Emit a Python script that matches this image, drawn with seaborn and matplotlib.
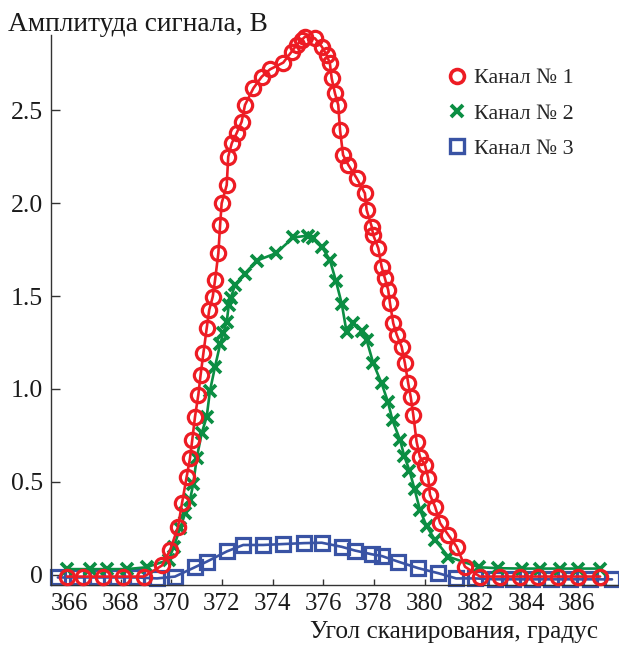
import matplotlib
matplotlib.use("Agg")
import matplotlib.pyplot as plt
from matplotlib.lines import Line2D
import seaborn as sns
import pandas as pd

# ---- data ----
ch1_x = [365.89, 366.52, 367.31, 368.10, 368.93, 369.64, 369.96, 370.27, 370.43, 370.61,
         370.74, 370.83, 370.94, 371.07, 371.16, 371.27, 371.40, 371.50, 371.64, 371.73,
         371.86, 371.93, 371.99, 372.19, 372.25, 372.39, 372.58, 372.78, 372.91, 373.24,
         373.57, 373.90, 374.42, 374.75, 374.95, 375.15, 375.28, 375.67, 375.94, 376.13,
         376.26, 376.33, 376.46, 376.59, 376.66, 376.78, 376.99, 377.32, 377.64, 377.71,
         377.91, 377.97, 378.17, 378.30, 378.43, 378.56, 378.63, 378.76, 378.90, 379.09,
         379.22, 379.35, 379.45, 379.55, 379.68, 379.81, 380.01, 380.14, 380.21, 380.41,
         380.61, 380.93, 381.26, 381.59, 382.18, 382.97, 383.76, 384.48, 385.27, 386.06,
         386.92]
ch1_y = [-0.01, -0.01, -0.01, -0.01, -0.01, 0.05, 0.133, 0.257, 0.388, 0.527,
         0.626, 0.725, 0.851, 0.968, 1.075, 1.192, 1.326, 1.425, 1.497, 1.586,
         1.730, 1.882, 1.999, 2.097, 2.250, 2.322, 2.376, 2.438, 2.528, 2.618,
         2.680, 2.720, 2.756, 2.815, 2.851, 2.878, 2.896, 2.887, 2.842, 2.797,
         2.752, 2.672, 2.591, 2.528, 2.393, 2.259, 2.205, 2.133, 2.053, 1.963,
         1.873, 1.828, 1.757, 1.658, 1.595, 1.532, 1.461, 1.353, 1.290, 1.227,
         1.138, 1.030, 0.955, 0.860, 0.716, 0.635, 0.590, 0.519, 0.429, 0.366,
         0.277, 0.214, 0.151, 0.043, -0.01, -0.01, -0.01, -0.01, -0.01, -0.01,
         -0.01]

ch2_x = [365.88, 366.80, 367.46, 368.24, 369.03, 369.90, 370.10, 370.35, 370.55, 370.74,
         370.87, 371.01, 371.20, 371.40, 371.53, 371.73, 371.93, 372.05, 372.19, 372.27,
         372.35, 372.52, 372.91, 373.37, 374.13, 374.82, 375.38, 375.61, 375.94, 376.26,
         376.50, 376.73, 376.92, 377.18, 377.51, 377.71, 377.97, 378.30, 378.55, 378.73,
         379.03, 379.19, 379.40, 379.60, 379.81, 380.08, 380.41, 380.93, 382.15, 382.90,
         383.83, 384.55, 385.34, 386.06, 386.92]
ch2_y = [0.03, 0.03, 0.03, 0.03, 0.04, 0.08, 0.15, 0.25, 0.33, 0.40,
         0.49, 0.63, 0.76, 0.85, 0.99, 1.12, 1.24, 1.30, 1.36, 1.45,
         1.49, 1.56, 1.62, 1.69, 1.73, 1.815, 1.825, 1.81, 1.765, 1.694,
         1.58, 1.457, 1.305, 1.353, 1.313, 1.263, 1.138, 1.030, 0.93, 0.83,
         0.725, 0.64, 0.56, 0.46, 0.35, 0.26, 0.187, 0.097, 0.04, 0.035,
         0.033, 0.033, 0.033, 0.033, 0.033]

ch3_x = [365.53, 366.28, 367.07, 367.86, 368.65, 369.44, 370.15, 370.93, 371.40, 372.19,
         372.84, 373.63, 374.42, 375.24, 375.94, 376.73, 377.25, 377.91, 378.32, 378.96,
         379.75, 380.54, 381.24, 381.98, 382.77, 383.48, 384.23, 384.98, 385.73, 386.52,
         387.39]
ch3_y = [-0.015, -0.015, -0.015, -0.015, -0.015, -0.02, -0.01, 0.04, 0.07, 0.125,
         0.16, 0.16, 0.165, 0.17, 0.172, 0.15, 0.13, 0.11, 0.10, 0.07,
         0.035, 0.008, -0.02, -0.02, -0.025, -0.025, -0.025, -0.025, -0.025, -0.025,
         -0.025]

labels = ["Канал № 1", "Канал № 2", "Канал № 3"]
x_ticks = [366, 368, 370, 372, 374, 376, 378, 380, 382, 384, 386]
y_ticks = [0, 0.5, 1.0, 1.5, 2.0, 2.5]
y_tick_labels = ["0", "0.5", "1.0", "1.5", "2.0", "2.5"]
y_title = "Амплитуда сигнала, В"
x_title = "Угол сканирования, градус"

RED = "#ED1C24"
GREEN = "#0B8E43"
BLUE = "#3953A4"

sns.set_theme(style="white")
plt.rcParams["font.family"] = ["Liberation Serif", "DejaVu Serif"]

fig = plt.figure(figsize=(6.19, 6.48), dpi=100)
ax = fig.add_axes([51 / 619, 63 / 648, (619 - 51) / 619, (585 - 35) / 648])

series = [
    (ch1_x, ch1_y, RED, "o", 10.3, 2.3),
    (ch2_x, ch2_y, GREEN, "x", 9, 2.7),
    (ch3_x, ch3_y, BLUE, "s", 9.8, 2.3),
]
for (xs, ys, col, mk, ms, mew), lab in zip(series, labels):
    df = pd.DataFrame({"x": xs, "y": ys})
    sns.lineplot(data=df, x="x", y="y", ax=ax, color=col, marker=mk,
                 markersize=ms, markeredgewidth=mew, markerfacecolor="none",
                 markeredgecolor=col, linewidth=1.9, estimator=None, sort=False,
                 clip_on=False, zorder={"o": 4, "x": 3, "s": 2}[mk])

x0 = 366 + (51 - 69.8) / 25.35
x1 = 366 + (619 - 69.8) / 25.35
y0 = (574.7 - 585) / 185.8
y1 = (574.7 - 35) / 185.8
ax.set_xlim(x0, x1)
ax.set_ylim(y0, y1)

ax.set_xticks(x_ticks)
ax.set_xticklabels([str(t) for t in x_ticks])
ax.set_yticks(y_ticks)
ax.set_yticklabels(y_tick_labels)
ax.set_xlabel("")
ax.set_ylabel("")

for s in ["top", "right"]:
    ax.spines[s].set_visible(False)
for s in ["left", "bottom"]:
    ax.spines[s].set_color("#333333")
    ax.spines[s].set_linewidth(1.0)

ax.tick_params(axis="x", direction="in", length=4.5, width=1.0, color="#333333",
               labelsize=18, pad=6, bottom=True, labelcolor="#1a1a1a")
ax.tick_params(axis="y", direction="in", length=6.5, width=1.0, color="#333333",
               labelsize=18.5, pad=6, left=True, labelcolor="#1a1a1a")

fig.text(8 / 619, 1 - 31 / 648, y_title, fontsize=19.8, ha="left",
         va="baseline", color="#1a1a1a")
fig.text(598 / 619, 1 - 638 / 648, x_title, fontsize=18.2, ha="right",
         va="baseline", color="#1a1a1a")

handles = [
    Line2D([], [], linestyle="none", marker="o", markersize=10, markeredgewidth=2.6,
           markerfacecolor="none", markeredgecolor=RED),
    Line2D([], [], linestyle="none", marker="x", markersize=9, markeredgewidth=2.8,
           markeredgecolor=GREEN),
    Line2D([], [], linestyle="none", marker="s", markersize=10, markeredgewidth=2.4,
           markerfacecolor="none", markeredgecolor=BLUE),
]
fig.legend(handles, labels, loc="upper left",
           bbox_to_anchor=(448.7 / 619, 1 - 68 / 648), frameon=False,
           fontsize=15.8, handlelength=0.8, handletextpad=0.35, borderpad=0,
           labelspacing=0.68, borderaxespad=0)

fig.savefig("out.png", dpi=100)
